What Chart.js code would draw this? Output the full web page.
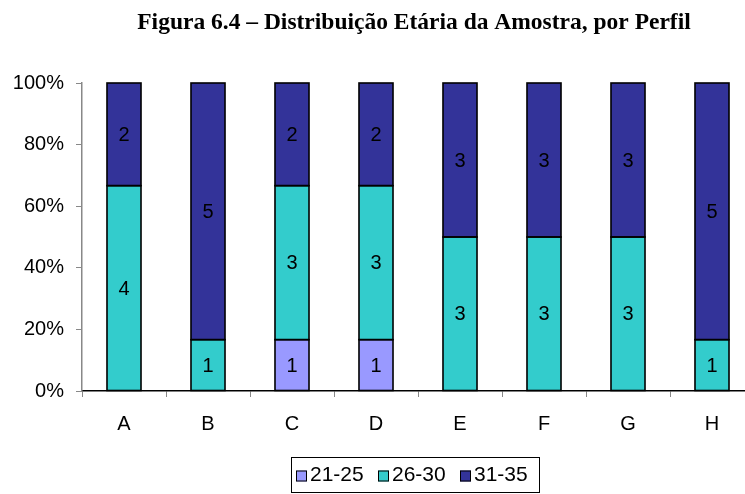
<!DOCTYPE html>
<html>
<head>
<meta charset="utf-8">
<script src="https://cdn.jsdelivr.net/npm/chart.js@4"></script>
<style>
html,body{margin:0;padding:0;background:#fff;overflow:hidden;width:745px;height:494px;}
canvas{display:block;}
</style>
</head>
<body>
<canvas id="c" width="760" height="494"></canvas>
<script>
const titleText = "Figura 6.4 – Distribuição Etária da Amostra, por Perfil";
const categories = ["A","B","C","D","E","F","G","H"];
const seriesNames = ["21-25","26-30","31-35"];
const s2125 = [0,0,1,1,0,0,0,0];
const s2630 = [4,1,3,3,3,3,3,1];
const s3135 = [2,5,2,2,3,3,3,5];
const seriesColors = ["#9999FF","#33CCCC","#333399"];
const yTicks = [0,20,40,60,80,100];

const counts = [s2125, s2630, s3135];
const totals = categories.map((_, i) => counts.reduce((a, s) => a + s[i], 0));
const pct = s => s.map((v, i) => v / totals[i] * 100);

const FONT = "'Liberation Sans', Arial, sans-serif";

const labelPlugin = {
  id: 'segLabels',
  afterDatasetsDraw(chart) {
    const ctx = chart.ctx;
    ctx.save();
    ctx.strokeStyle = "#000";
    ctx.lineWidth = 1.6;
    chart.data.datasets.forEach((ds, di) => {
      const meta = chart.getDatasetMeta(di);
      meta.data.forEach((bar, i) => {
        if (!ds.counts[i]) return;
        const left = bar.x - bar.width / 2;
        const top = Math.min(bar.y, bar.base);
        const h = Math.abs(bar.base - bar.y);
        ctx.strokeRect(left, top, bar.width, h);
      });
    });
    ctx.font = "20px " + FONT;
    ctx.fillStyle = "#000";
    ctx.textAlign = "center";
    ctx.textBaseline = "middle";
    chart.data.datasets.forEach((ds, di) => {
      const meta = chart.getDatasetMeta(di);
      meta.data.forEach((bar, i) => {
        const c = ds.counts[i];
        if (!c) return;
        const mid = (bar.y + bar.base) / 2;
        ctx.fillText(String(c), bar.x, mid + 1);
      });
    });
    ctx.restore();
  }
};

const decoPlugin = {
  id: 'deco',
  afterDraw(chart) {
    const ctx = chart.ctx;
    ctx.save();
    ctx.font = "bold 23.5px 'Liberation Serif', 'Times New Roman', serif";
    ctx.fillStyle = "#000";
    ctx.textAlign = "center";
    ctx.textBaseline = "middle";
    ctx.fillText(titleText, 414, 23);
    // legend
    const bx = 291, by = 457, bw = 248, bh = 35;
    ctx.strokeStyle = "#000";
    ctx.lineWidth = 1;
    ctx.strokeRect(bx + 0.5, by + 0.5, bw, bh);
    ctx.font = "21px " + FONT;
    ctx.textAlign = "left";
    const cy = by + bh / 2 + 1;
    seriesNames.forEach((name, i) => {
      const x = bx + 5 + i * 82;
      ctx.fillStyle = seriesColors[i];
      ctx.fillRect(x, cy - 5, 11, 11);
      ctx.strokeStyle = "#000";
      ctx.strokeRect(x + 0.5, cy - 4.5, 10, 10);
      ctx.fillStyle = "#000";
      ctx.fillText(name, x + 14, cy);
    });
    ctx.restore();
  }
};

new Chart(document.getElementById('c'), {
  type: 'bar',
  data: {
    labels: categories,
    datasets: counts.map((s, i) => ({
      label: seriesNames[i],
      data: pct(s),
      counts: s,
      backgroundColor: seriesColors[i],
      borderWidth: 0,
      barPercentage: 0.405,
      categoryPercentage: 1
    }))
  },
  options: {
    responsive: false,
    animation: false,
    devicePixelRatio: 1,
    layout: { padding: { left: 0, right: 6, top: 83, bottom: 0 } },
    plugins: { legend: { display: false }, title: { display: false }, tooltip: { enabled: false } },
    scales: {
      x: {
        stacked: true,
        offset: true,
        grid: { drawOnChartArea: false, drawTicks: true, tickLength: 6, color: '#888', offset: true },
        border: { color: '#000', width: 1.5 },
        ticks: { font: { family: FONT, size: 20 }, color: '#000', padding: 15 },
        afterFit(scale) { scale.height = 103; }
      },
      y: {
        stacked: true,
        min: 0, max: 100,
        afterBuildTicks(scale) { scale.ticks = yTicks.map(v => ({ value: v })); },
        grid: { drawOnChartArea: false, drawTicks: true, tickLength: 6, color: '#888' },
        border: { color: '#888', width: 1.5 },
        ticks: { font: { family: FONT, size: 20 }, color: '#000', padding: 12, callback: v => v + '%' },
        afterFit(scale) { scale.width = 82; }
      }
    }
  },
  plugins: [labelPlugin, decoPlugin]
});
</script>
</body>
</html>
